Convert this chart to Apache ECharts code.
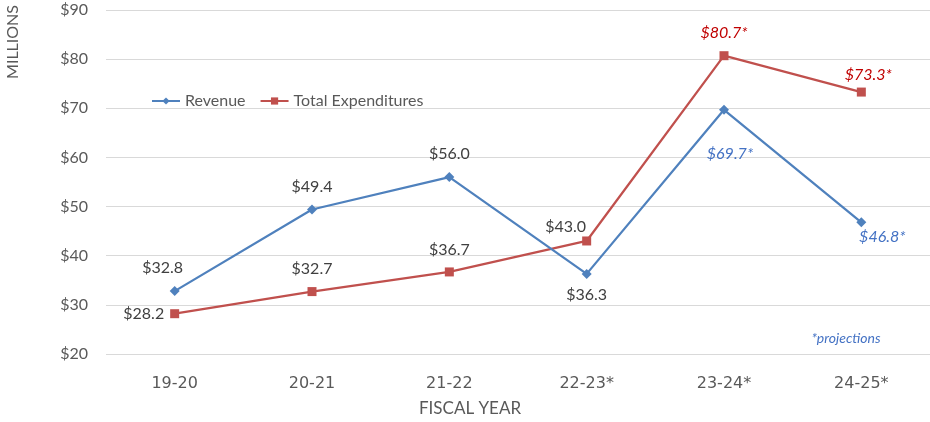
<!DOCTYPE html>
<html>
<head>
<meta charset="utf-8">
<script src="https://cdn.jsdelivr.net/npm/echarts@6/dist/echarts.min.js"></script>
<style>
  html, body { margin: 0; padding: 0; background: #fff; }
  #chart { width: 930px; height: 422px; }
</style>
</head>
<body>
<div id="chart"></div>
<script>
// Fiscal years (an asterisk marks projected years)
const fiscalYears = ['19-20', '20-21', '21-22', '22-23*', '23-24*', '24-25*'];
// Values in millions of dollars
const revenue = [32.8, 49.4, 56.0, 36.3, 69.7, 46.8];
const totalExpenditures = [28.2, 32.7, 36.7, 43.0, 80.7, 73.3];
// Which points are projections (labels drawn in italics with an asterisk)
const projected = [false, false, false, false, true, true];
// Y axis range and step
const yMin = 20, yMax = 90, yStep = 10;

const FONT = 'Lato, "Open Sans", sans-serif';
const TEXT_GREY = '#595959';
const LABEL_GREY = '#404040';
const BLUE = '#4F81BD';
const RED = '#C0504D';

// Label placement for each point of each series
const revenueLabelPlacement = [
  { position: 'top', distance: 10, offset: [-12, 0] },
  { position: 'top', distance: 10, offset: [0, 0] },
  { position: 'top', distance: 10, offset: [0, 0] },
  { position: 'bottom', distance: 8, offset: [0, 0] },
  { position: 'bottom', distance: 31, offset: [6, 0] },
  { position: 'bottom', distance: 2, offset: [21, 0] }
];
const expenditureLabelPlacement = [
  { position: 'left', distance: 6, offset: [0, 0] },
  { position: 'top', distance: 10, offset: [0, 0] },
  { position: 'top', distance: 10, offset: [0, 0] },
  { position: 'top', distance: 2, offset: [-21, 0] },
  { position: 'top', distance: 10, offset: [0, 0] },
  { position: 'top', distance: 5, offset: [7, 0] }
];

function buildData(values, placement, projColor) {
  return values.map((v, i) => ({
    value: v,
    label: {
      show: true,
      position: placement[i].position,
      distance: placement[i].distance,
      offset: placement[i].offset,
      fontFamily: FONT,
      fontSize: 16,
      fontStyle: projected[i] ? 'italic' : 'normal',
      color: projected[i] ? projColor : LABEL_GREY,
      formatter: '$' + v.toFixed(1) + (projected[i] ? '*' : '')
    }
  }));
}

const chart = echarts.init(document.getElementById('chart'), null, { renderer: 'canvas' });

chart.setOption({
  animation: false,
  backgroundColor: '#ffffff',
  grid: { left: 106, right: 0, top: 10, bottom: 68, containLabel: false },
  legend: {
    left: 146,
    top: 88,
    itemWidth: 28,
    itemHeight: 9,
    itemGap: 14,
    textStyle: { fontFamily: FONT, fontSize: 16, color: TEXT_GREY },
    data: ['Revenue', 'Total Expenditures']
  },
  xAxis: {
    type: 'category',
    data: fiscalYears,
    boundaryGap: true,
    axisLine: { show: false },
    axisTick: { show: false },
    axisLabel: {
      margin: 22,
      fontFamily: '"DejaVu Sans", sans-serif',
      fontSize: 16,
      color: TEXT_GREY
    }
  },
  yAxis: {
    type: 'value',
    min: yMin,
    max: yMax,
    interval: yStep,
    axisLine: { show: false },
    axisTick: { show: false },
    splitLine: { lineStyle: { color: '#D9D9D9', width: 1 } },
    axisLabel: {
      margin: 18,
      fontFamily: FONT,
      fontSize: 16,
      color: TEXT_GREY,
      formatter: v => '$' + v
    }
  },
  series: [
    {
      name: 'Revenue',
      type: 'line',
      data: buildData(revenue, revenueLabelPlacement, '#4472C4'),
      symbol: 'diamond',
      symbolSize: 10,
      lineStyle: { color: BLUE, width: 2.25 },
      itemStyle: { color: BLUE },
      z: 3
    },
    {
      name: 'Total Expenditures',
      type: 'line',
      data: buildData(totalExpenditures, expenditureLabelPlacement, '#C00000'),
      symbol: 'rect',
      symbolSize: 9,
      lineStyle: { color: RED, width: 2.25 },
      itemStyle: { color: RED },
      z: 2
    }
  ],
  graphic: [
    {
      type: 'text',
      left: 5,
      top: 5,
      rotation: Math.PI / 2,
      style: {
        text: 'MILLIONS',
        fontFamily: FONT,
        fontSize: 16,
        fill: TEXT_GREY
      }
    },
    {
      type: 'text',
      x: 470,
      y: 409,
      style: {
        text: 'FISCAL YEAR',
        align: 'center',
        verticalAlign: 'middle',
        fontFamily: FONT,
        fontSize: 17,
        fill: TEXT_GREY
      }
    },
    {
      type: 'text',
      x: 846,
      y: 338,
      style: {
        text: '*projections',
        align: 'center',
        verticalAlign: 'middle',
        fontFamily: FONT,
        fontSize: 14,
        fontStyle: 'italic',
        fill: '#4472C4'
      }
    }
  ]
});
</script>
</body>
</html>
